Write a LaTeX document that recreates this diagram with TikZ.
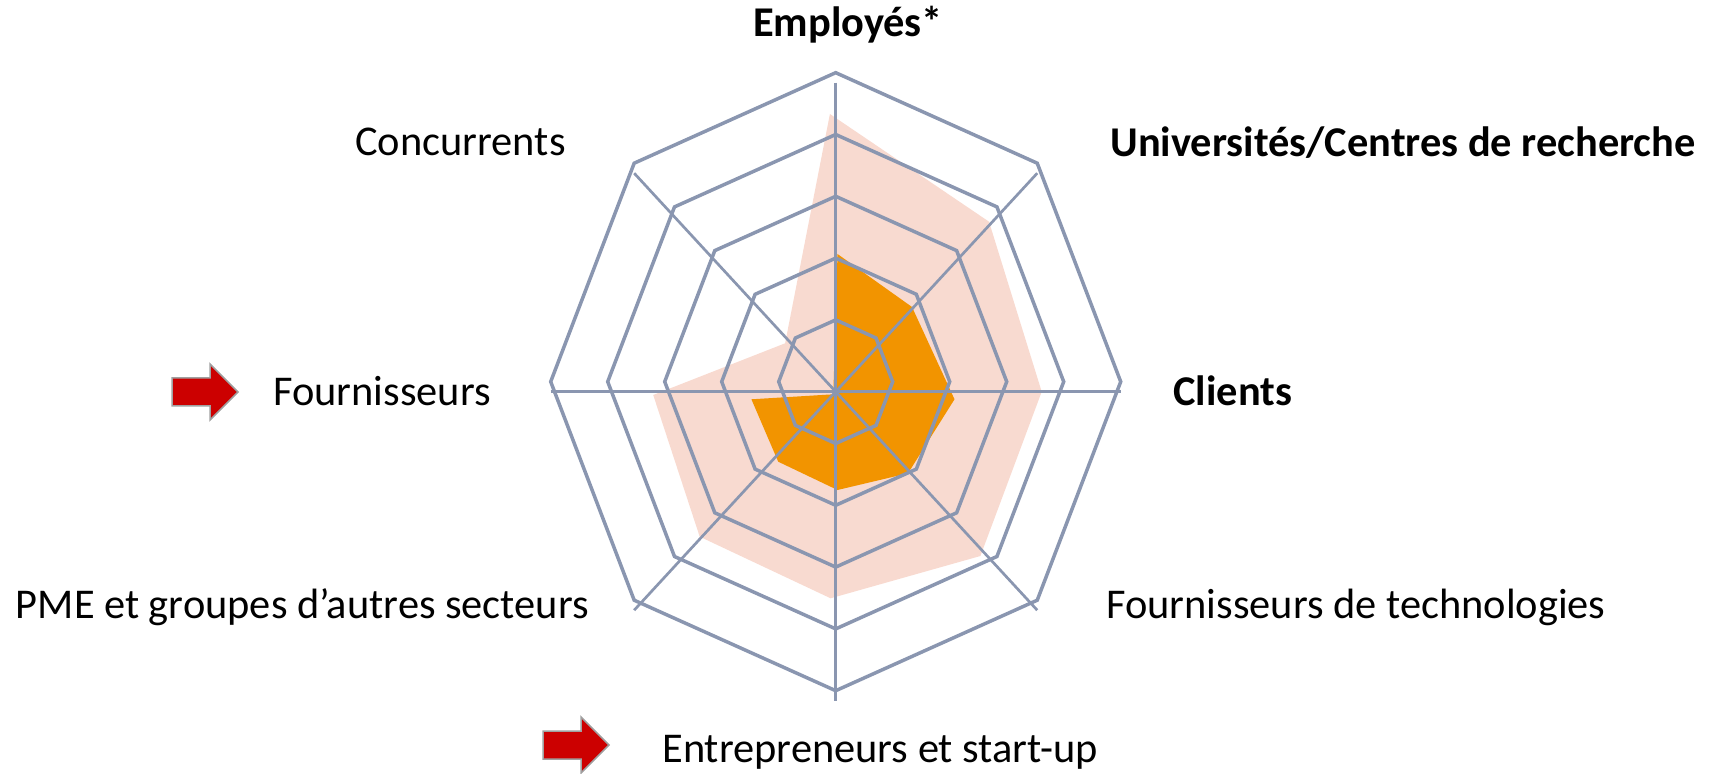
\documentclass[tikz,border=0pt]{standalone}
\usepackage{fontspec}
\setmainfont{Carlito}
\usepackage{tikz}
\usepackage{xcolor}

\definecolor{gridgray}{HTML}{8A96B0}
\definecolor{seriespink}{HTML}{F8DAD0}
\definecolor{seriesorange}{HTML}{F29400}
\definecolor{arrowred}{HTML}{CC0000}
\definecolor{arrowgray}{HTML}{A0A0A0}

\begin{document}
\begin{tikzpicture}[x=0.5pt,y=-0.5pt,
  ring/.style={draw=gridgray,line width=1.75pt,line join=miter},
  spoke/.style={draw=gridgray,line width=1.35pt},
  axislabel/.style={inner sep=0pt,font=\fontsize{21.2}{25}\selectfont},
  redarrow/.style={fill=arrowred,draw=arrowgray,line width=0.75pt}]
\useasboundingbox (0,0) rectangle (1711,774);

% the two series
\fill[seriespink] (829.9,114) -- (989,221.7) -- (1041.7,391.7) -- (980.4,556)
  -- (830.6,598.3) -- (699.7,536.7) -- (653.2,395) -- (785.1,343.3) -- cycle;
\fill[seriesorange] (837.5,254) -- (912,307) -- (954.5,399.3) -- (908,473.3)
  -- (837.5,490) -- (778.2,461.7) -- (751.4,399.3) -- (833.3,394.3) -- cycle;

% rings
\begin{scope}[shift={(835.7,381.7)},x=28.5pt,y=30.9pt]
\draw[ring] (90:1) -- (45:1) -- (0:1) -- (-45:1) -- (-90:1) -- (-135:1) -- (180:1) -- (135:1) -- cycle;
\draw[ring] (90:2) -- (45:2) -- (0:2) -- (-45:2) -- (-90:2) -- (-135:2) -- (180:2) -- (135:2) -- cycle;
\draw[ring] (90:3) -- (45:3) -- (0:3) -- (-45:3) -- (-90:3) -- (-135:3) -- (180:3) -- (135:3) -- cycle;
\draw[ring] (90:4) -- (45:4) -- (0:4) -- (-45:4) -- (-90:4) -- (-135:4) -- (180:4) -- (135:4) -- cycle;
\draw[ring] (90:5) -- (45:5) -- (0:5) -- (-45:5) -- (-90:5) -- (-135:5) -- (180:5) -- (135:5) -- cycle;
\end{scope}

% spokes
\begin{scope}[shift={(835.7,391.7)},x=28.5pt,y=30.9pt]
\draw[spoke] (90:5) -- (-90:5);
\draw[spoke] (180:5) -- (0:5);
\draw[spoke] (135:5) -- (-45:5);
\draw[spoke] (45:5) -- (-135:5);
\end{scope}

% labels
\node[axislabel,anchor=base] (employes) at (848,37) {\textbf{Employés*}};
\node[axislabel,anchor=base west] (universites) at (1110,157) {\textbf{Universités/Centres de recherche}};
\node[axislabel,anchor=base west] (clients) at (1173,406) {\textbf{Clients}};
\node[axislabel,anchor=base west] (fourntech) at (1106,618) {Fournisseurs de technologies};
\node[axislabel,anchor=base west] (entrepreneurs) at (662,762) {Entrepreneurs et start-up};
\node[axislabel,anchor=base east] (pme) at (589,618) {PME et groupes d’autres secteurs};
\node[axislabel,anchor=base west] (fournisseurs) at (273,406) {Fournisseurs};
\node[axislabel,anchor=base east] (concurrents) at (566,156) {Concurrents};

% red arrows
\draw[redarrow] (172,378) -- (210,378) -- (210,364) -- (238,392) -- (210,420) -- (210,406) -- (172,406) -- cycle;
\draw[redarrow] (543,731) -- (581,731) -- (581,717) -- (609,745) -- (581,773) -- (581,759) -- (543,759) -- cycle;
\end{tikzpicture}
\end{document}
